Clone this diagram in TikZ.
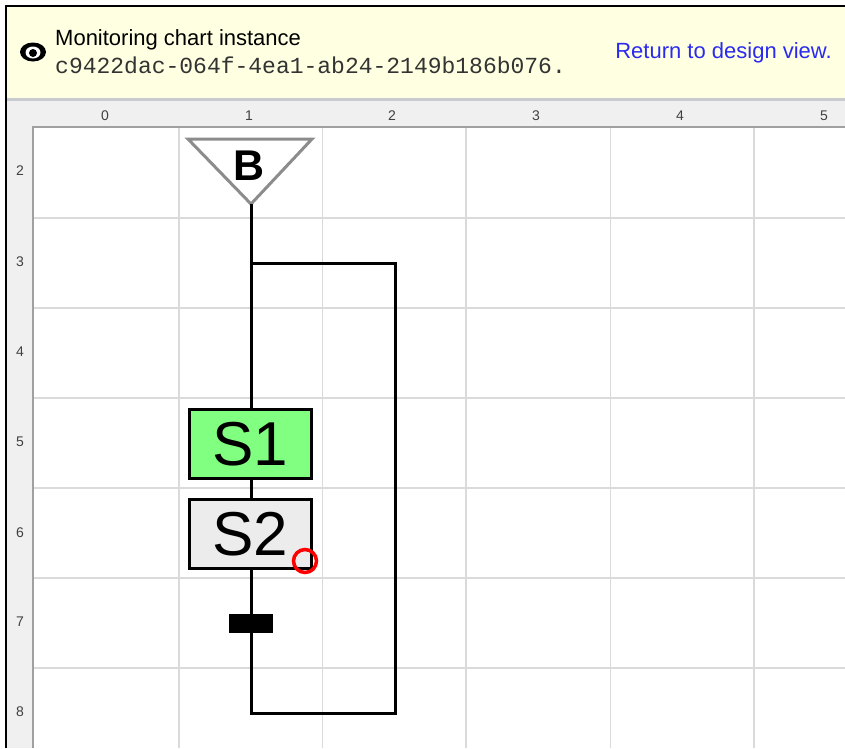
\documentclass[tikz,border=0pt]{standalone}
\usepackage{fontspec}
\setmainfont{Liberation Sans}
\setmonofont{Liberation Mono}
\definecolor{hdrbg}{HTML}{FFFFE1}
\definecolor{rulerbg}{HTML}{F0F0F0}
\definecolor{rulerln}{HTML}{A0A0A0}
\definecolor{sepln}{HTML}{C8CCD0}
\definecolor{gridln}{HTML}{DADADA}
\definecolor{stepgreen}{HTML}{80FF80}
\definecolor{stepgray}{HTML}{ECECEC}
\definecolor{linkblue}{HTML}{2A2AF0}
\definecolor{rulertxt}{HTML}{404040}
\begin{document}
\begin{tikzpicture}[x=1pt,y=-1pt,
  stepbox/.style={draw=black,line width=3pt,minimum width=122pt,minimum height=69pt,inner sep=0pt,
    font=\fontsize{62}{62}\selectfont},
  wire/.style={draw=black,line width=3pt},
  gridline/.style={draw=gridln,line width=1.5pt},
  rulerlabel/.style={inner sep=0pt,text=rulertxt,font=\fontsize{14}{14}\selectfont},
  hdrtext/.style={inner sep=0pt,anchor=base west,font=\fontsize{22}{26}\selectfont}]
\useasboundingbox (0,0) rectangle (845,748);
\fill[white] (0,0) rectangle (845,748);
% header
\fill[hdrbg] (6,6) rectangle (845,98);
% rulers
\fill[sepln] (6,98) rectangle (845,101);
\fill[rulerbg] (6,101) rectangle (845,748);
\fill[white] (33,128) rectangle (845,748);
% grid
\begin{scope}
\clip (33,128) rectangle (845,748);
\foreach \x in {179,322.5,466,610.5,754} \draw[gridline] (\x,128) -- (\x,748);
\foreach \y in {218,308,398,488,578,668} \draw[gridline] (33,\y) -- (845,\y);
\end{scope}
\draw[rulerln,line width=2pt] (33,748) -- (33,127) -- (845,127);
% frame
\draw[black,line width=2.5pt] (6,748) -- (6,6) -- (845,6);
% ruler labels
\foreach \t/\x in {0/105,1/249,2/392,3/536,4/680,5/824}
  \node[rulerlabel] (col\t) at (\x,116) {\t};
\foreach \t/\y in {2/171,3/262,4/352,5/442,6/533,7/622,8/712}
  \node[rulerlabel] (row\t) at (20,\y) {\t};
% header contents
\fill[black] (33,52) ellipse [x radius=13,y radius=9.5];
\fill[white] (33,52.5) ellipse [x radius=7.5,y radius=6];
\fill[black] (33,53) circle [radius=4];
\node[hdrtext] (title) at (55,45) {Monitoring chart instance};
\node[inner sep=0pt,anchor=base west,font=\ttfamily\fontsize{23}{26}\selectfont,text=black!80] (uuid) at (55,73) {c9422dac-064f-4ea1-ab24-2149b186b076.};
\node[hdrtext,anchor=base east,text=linkblue] (ret) at (832,58) {Return to design view.};
% begin triangle
\coordinate (tl) at (188,139);
\coordinate (tr) at (312,139);
\coordinate (apex) at (251,204);
\draw[draw=gray!90,fill=white,line width=3pt,line join=miter] (tl) -- (tr) -- (apex) -- cycle;
\node[inner sep=0pt,font=\bfseries\fontsize{43}{43}\selectfont] (B) at (249,166) {B};
% steps
\node[stepbox,fill=stepgreen] (S1) at (250.5,444) {S1};
\node[stepbox,fill=stepgray] (S2) at (250.5,534) {S2};
\node[fill=black,inner sep=0pt,minimum width=44pt,minimum height=19pt] (T) at (251,623.5) {};
\draw[red,line width=3.5pt] (305,561) circle [radius=11.5];
% connectors
\coordinate (j1) at (251,263);
\coordinate (r1) at (395,263);
\coordinate (r2) at (395,713);
\coordinate (j2) at (251,713);
\draw[wire] (apex) -- (S1.north -| apex);
\draw[wire] (j1) -- (r1) -- (r2) -- (j2);
\draw[wire] (S1.south -| apex) -- (S2.north -| apex);
\draw[wire,line cap=rect] (S2.south -| apex) -- (j2);
\end{tikzpicture}
\end{document}
